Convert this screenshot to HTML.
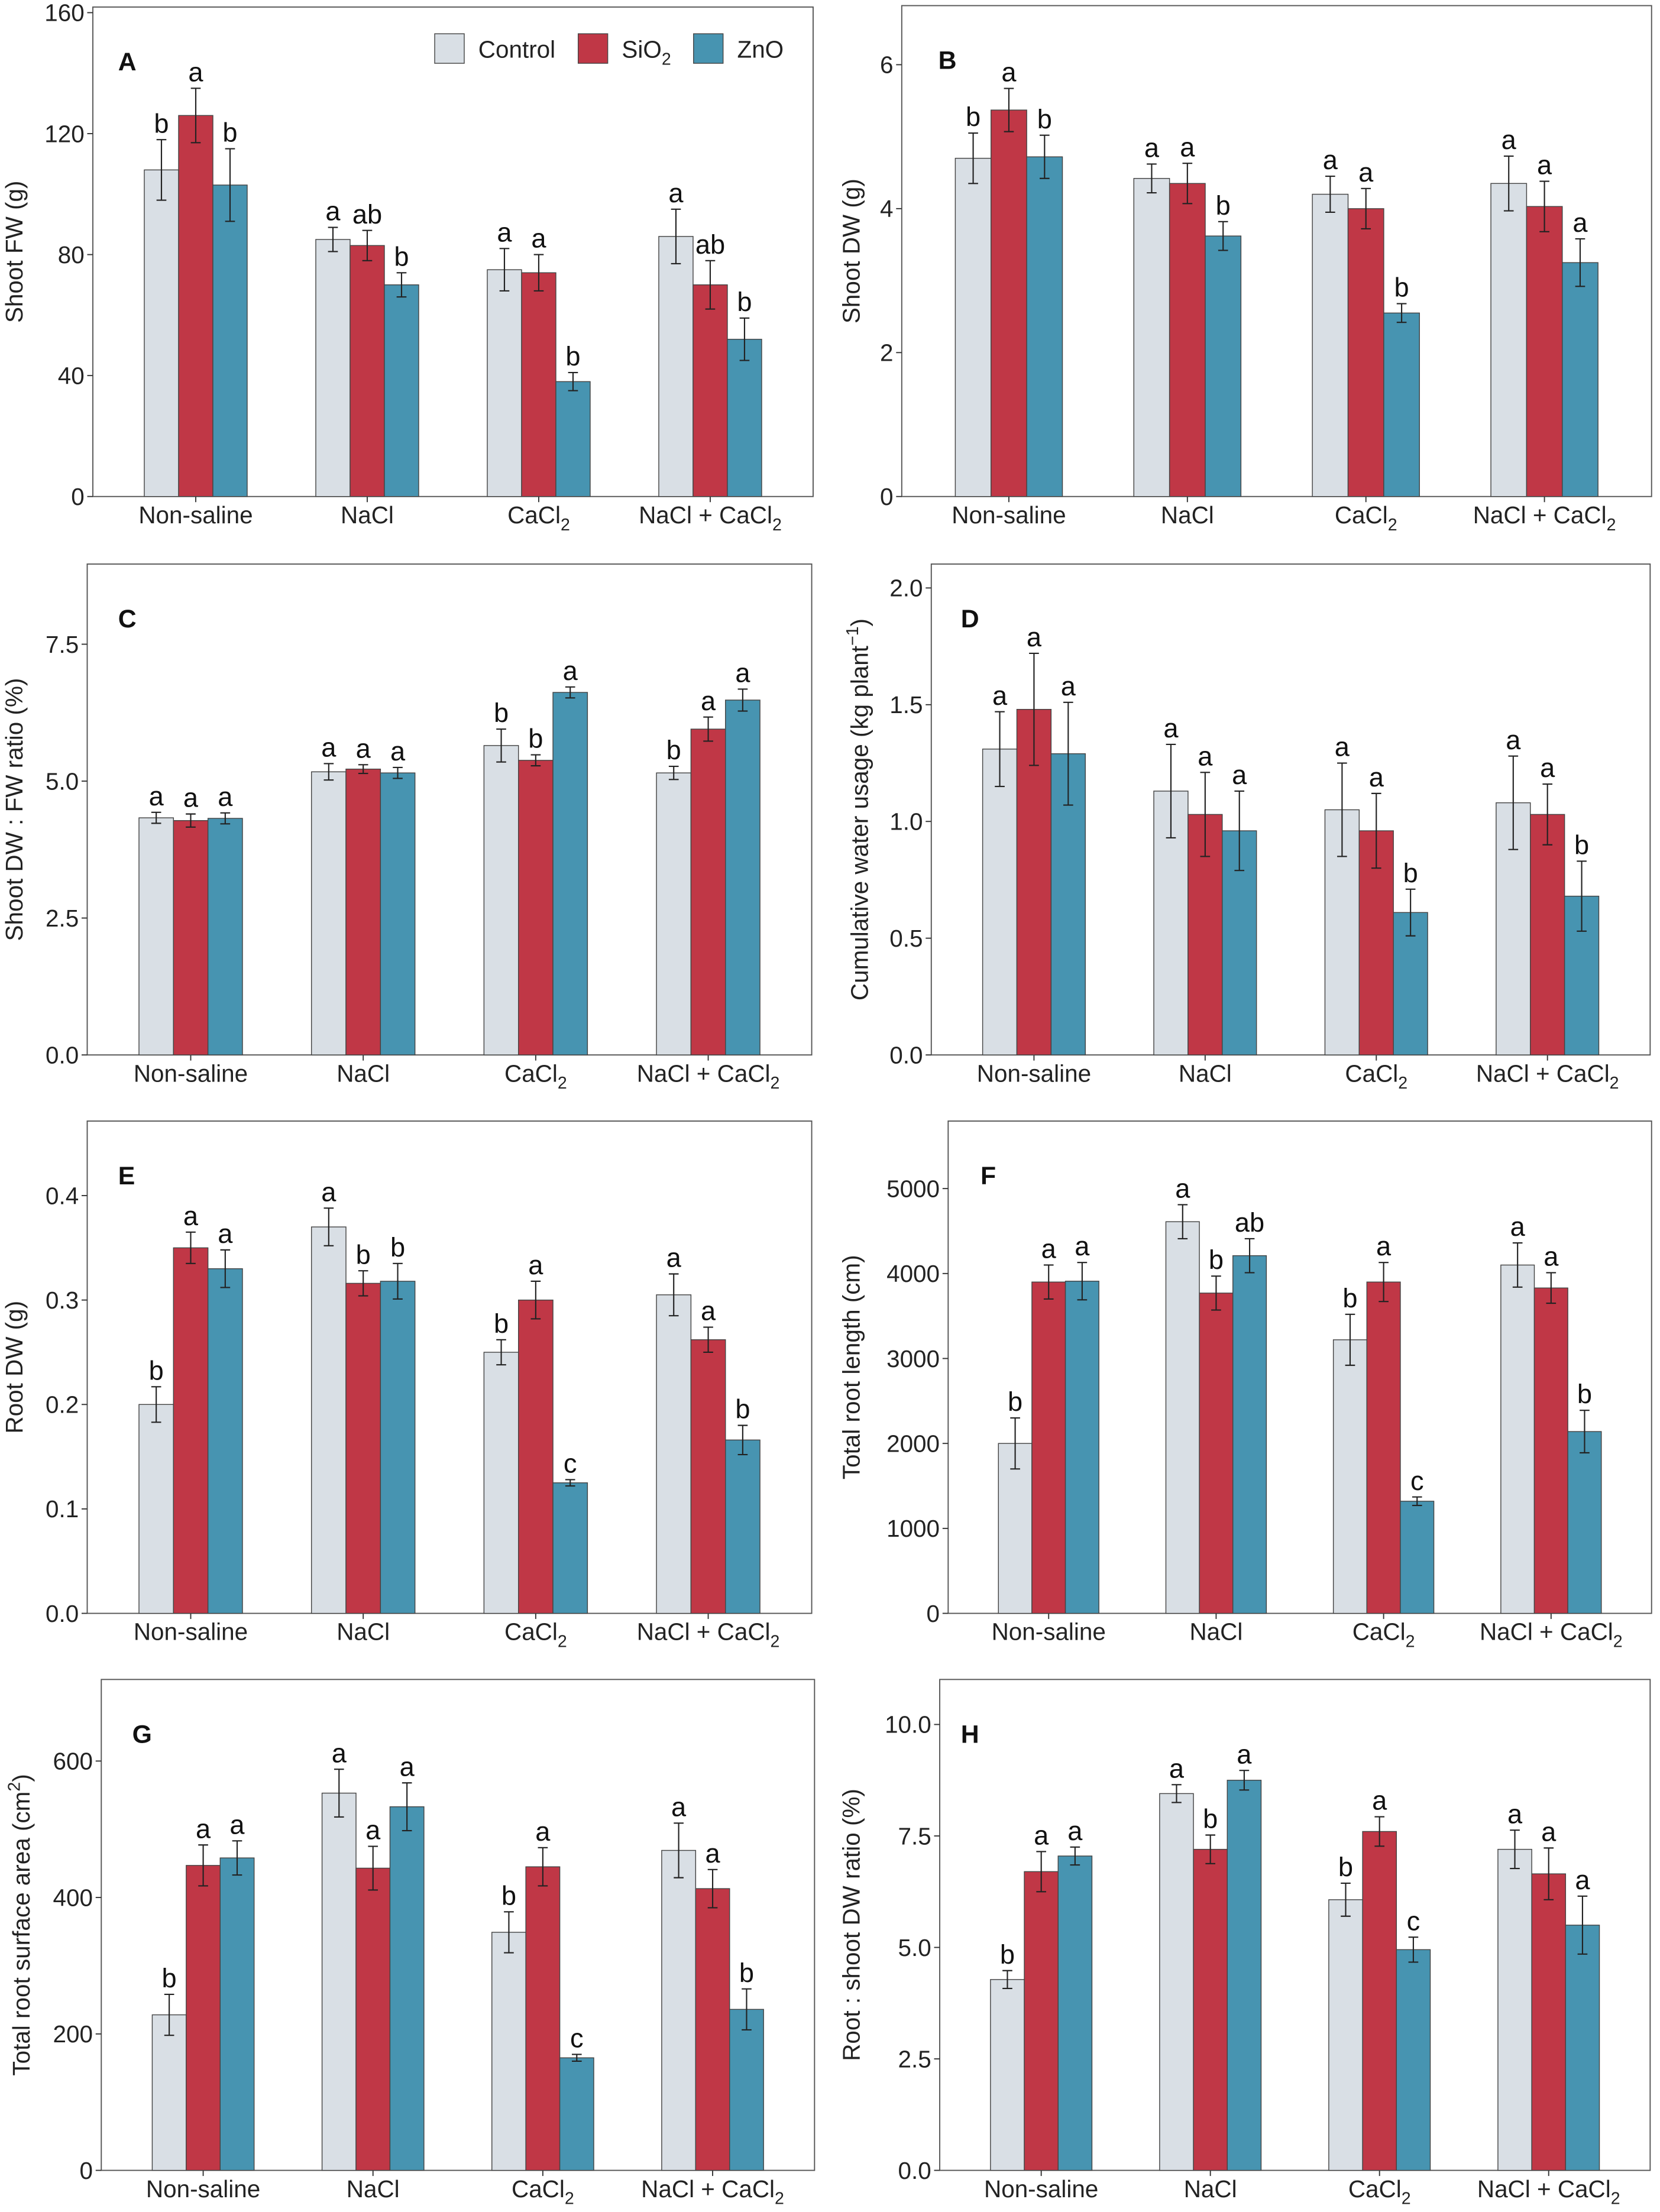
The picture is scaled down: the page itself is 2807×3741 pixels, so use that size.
<!DOCTYPE html>
<html><head><meta charset="utf-8"><style>
html,body{margin:0;padding:0;background:#fff;}
svg{display:block;font-family:"Liberation Sans",Arial,sans-serif;}
</style></head><body>
<svg id="fig" width="2807" height="3741" viewBox="0 0 1180 1572.6" preserveAspectRatio="none" xmlns="http://www.w3.org/2000/svg">
<rect x="0" y="0" width="1180" height="1573" fill="#fff"/>
</svg>
<script>
const categories = ["Non-saline","NaCl","CaCl2","NaCl + CaCl2"];
const seriesNames = ["Control","SiO2","ZnO"];
// Panel A
const aCtrl=[108,85,75,86], aSi=[126,83,74,70], aZn=[103,70,38,52];
const aCtrlE=[10,4,7,9], aSiE=[9,5,6,8], aZnE=[12,4,3,7];
const aLet=[["b","a","b"],["a","ab","b"],["a","a","b"],["a","ab","b"]];
const aTicks=[0,40,80,120,160];
// Panel B
const bCtrl=[4.7,4.42,4.2,4.35], bSi=[5.37,4.35,4.0,4.03], bZn=[4.72,3.62,2.55,3.25];
const bCtrlE=[0.35,0.2,0.25,0.38], bSiE=[0.3,0.28,0.28,0.35], bZnE=[0.3,0.2,0.13,0.33];
const bLet=[["b","a","b"],["a","a","b"],["a","a","b"],["a","a","a"]];
const bTicks=[0,2,4,6];
// Panel C
const cCtrl=[4.33,5.17,5.65,5.15], cSi=[4.28,5.22,5.38,5.95], cZn=[4.32,5.15,6.62,6.48];
const cCtrlE=[0.1,0.15,0.3,0.12], cSiE=[0.12,0.08,0.1,0.22], cZnE=[0.1,0.1,0.1,0.2];
const cLet=[["a","a","a"],["a","a","a"],["b","b","a"],["b","a","a"]];
const cTicks=[0,2.5,5,7.5];
// Panel D
const dCtrl=[1.31,1.13,1.05,1.08], dSi=[1.48,1.03,0.96,1.03], dZn=[1.29,0.96,0.61,0.68];
const dCtrlE=[0.16,0.2,0.2,0.2], dSiE=[0.24,0.18,0.16,0.13], dZnE=[0.22,0.17,0.1,0.15];
const dLet=[["a","a","a"],["a","a","a"],["a","a","b"],["a","a","b"]];
const dTicks=[0,0.5,1.0,1.5,2.0];
// Panel E
const eCtrl=[0.2,0.37,0.25,0.305], eSi=[0.35,0.316,0.3,0.262], eZn=[0.33,0.318,0.125,0.166];
const eCtrlE=[0.017,0.018,0.012,0.02], eSiE=[0.015,0.012,0.018,0.012], eZnE=[0.018,0.017,0.003,0.014];
const eLet=[["b","a","a"],["a","b","b"],["b","a","c"],["a","a","b"]];
const eTicks=[0,0.1,0.2,0.3,0.4];
// Panel F
const fCtrl=[2000,4610,3220,4100], fSi=[3900,3770,3900,3830], fZn=[3910,4210,1320,2140];
const fCtrlE=[300,200,300,260], fSiE=[200,200,230,180], fZnE=[220,200,50,250];
const fLet=[["b","a","a"],["a","b","ab"],["b","a","c"],["a","a","b"]];
const fTicks=[0,1000,2000,3000,4000,5000];
// Panel G
const gCtrl=[228,553,349,469], gSi=[447,443,445,413], gZn=[458,533,165,236];
const gCtrlE=[30,35,30,40], gSiE=[30,32,28,28], gZnE=[25,35,5,30];
const gLet=[["b","a","a"],["a","a","a"],["b","a","c"],["a","a","b"]];
const gTicks=[0,200,400,600];
// Panel H
const hCtrl=[4.28,8.45,6.07,7.2], hSi=[6.7,7.2,7.6,6.65], hZn=[7.05,8.75,4.95,5.5];
const hCtrlE=[0.2,0.2,0.37,0.43], hSiE=[0.45,0.32,0.33,0.58], hZnE=[0.2,0.22,0.28,0.65];
const hLet=[["b","a","a"],["a","b","a"],["b","a","c"],["a","a","a"]];
const hTicks=[0,2.5,5,7.5,10];

const COLORS=["#d9dfe5","#c03746","#4794b1"];
const NS="http://www.w3.org/2000/svg";
const svg=document.getElementById("fig");
function mk(tag,attrs,parent){const e=document.createElementNS(NS,tag);for(const k in attrs)e.setAttribute(k,attrs[k]);(parent||svg).appendChild(e);return e;}

function panel(cfg){
  const g=mk("g",{});
  
  
  const {L,R,T,B,topTick,topVal}=cfg;
  const W=R-L;
  const y=v=>B-v*(B-topTick)/topVal;
  const xc=i=>L+(i+0.6)/4.2*W;
  const bw=W/21;
  const frame=mk("rect",{x:L,y:T,width:W,height:B-T,fill:"none",stroke:"#555","stroke-width":0.8},g);
  
  
  cfg.ticks.forEach(t=>{
    mk("line",{x1:L-4,x2:L,y1:y(t),y2:y(t),stroke:"#333","stroke-width":0.8},g);
    const tx=mk("text",{x:L-6,y:y(t)+6,"text-anchor":"end","font-size":17,fill:"#222"},g);
    tx.textContent=cfg.fmt(t);
    
    
  });
  const yt=mk("text",{x:0,y:0,"text-anchor":"middle","font-size":17,fill:"#222",transform:`translate(${cfg.tx},${(T+B)/2}) rotate(-90)`},g);
  yt.innerHTML=cfg.title;
  
  
  const pl=mk("text",{x:cfg.lx,y:T+45,"font-size":18,"font-weight":"bold",fill:"#111"},g);
  pl.textContent=cfg.id;
  
  
  categories.forEach((c,i)=>{
    mk("line",{x1:xc(i),x2:xc(i),y1:B,y2:B+4,stroke:"#333","stroke-width":0.8},g);
    const t=mk("text",{x:xc(i),y:B+19,"text-anchor":"middle","font-size":17,fill:"#222"},g);
    if(c.indexOf("CaCl2")>=0){
      t.innerHTML=c.replace("CaCl2","CaCl")+'<tspan font-size="12" dy="5">2</tspan>';
    } else t.textContent=c;
    
    
  });
  const vals=[cfg.c,cfg.s,cfg.z], errs=[cfg.ce,cfg.se,cfg.ze];
  for(let i=0;i<4;i++){
    for(let k=0;k<3;k++){
      const v=vals[k][i], e=errs[k][i];
      const x0=xc(i)+(k-1.5)*bw;
      const r=mk("rect",{x:x0,y:y(v),width:bw,height:B-y(v),fill:COLORS[k],stroke:"#444","stroke-width":0.6},g);
      
      
      const cx=x0+bw/2;
      const eb=mk("path",{d:`M${cx-3.5},${y(v+e)}H${cx+3.5}M${cx},${y(v+e)}V${y(v-e)}M${cx-3.5},${y(v-e)}H${cx+3.5}`,stroke:"#222","stroke-width":0.9,fill:"none"},g);
      
      
      const lt=mk("text",{x:cx,y:y(v+e)-5,"text-anchor":"middle","font-size":19,fill:"#111"},g);
      lt.textContent=cfg.let[i][k];
      
      
    }
  }
}
const f1=v=>v.toFixed(1), f0=v=>String(v);
panel({id:"A",L:66,R:578,T:5,B:353,topTick:9,topVal:160,ticks:aTicks,fmt:f0,tx:16,lx:84,title:"Shoot FW (g)",c:aCtrl,s:aSi,z:aZn,ce:aCtrlE,se:aSiE,ze:aZnE,let:aLet});
panel({id:"B",L:641,R:1174,T:4,B:353,topTick:46,topVal:6,ticks:bTicks,fmt:f0,tx:611,lx:667,title:"Shoot DW (g)",c:bCtrl,s:bSi,z:bZn,ce:bCtrlE,se:bSiE,ze:bZnE,let:bLet});
panel({id:"C",L:62,R:577,T:401,B:750,topTick:458,topVal:7.5,ticks:cTicks,fmt:f1,tx:16,lx:84,title:"Shoot DW : FW ratio (%)",c:cCtrl,s:cSi,z:cZn,ce:cCtrlE,se:cSiE,ze:cZnE,let:cLet});
panel({id:"D",L:662,R:1173,T:401,B:750,topTick:418,topVal:2.0,ticks:dTicks,fmt:f1,tx:617,lx:683,title:'Cumulative water usage (kg plant<tspan font-size="12" dy="-7">−1</tspan><tspan dy="7">)</tspan>',c:dCtrl,s:dSi,z:dZn,ce:dCtrlE,se:dSiE,ze:dZnE,let:dLet});
panel({id:"E",L:62,R:577,T:797,B:1147,topTick:850,topVal:0.4,ticks:eTicks,fmt:f1,tx:16,lx:84,title:"Root DW (g)",c:eCtrl,s:eSi,z:eZn,ce:eCtrlE,se:eSiE,ze:eZnE,let:eLet});
panel({id:"F",L:674,R:1174,T:797,B:1147,topTick:845,topVal:5000,ticks:fTicks,fmt:f0,tx:611,lx:697,title:"Total root length (cm)",c:fCtrl,s:fSi,z:fZn,ce:fCtrlE,se:fSiE,ze:fZnE,let:fLet});
panel({id:"G",L:72,R:579,T:1194,B:1543,topTick:1252,topVal:600,ticks:gTicks,fmt:f0,tx:21,lx:94,title:'Total root surface area (cm<tspan font-size="12" dy="-7">2</tspan><tspan dy="7">)</tspan>',c:gCtrl,s:gSi,z:gZn,ce:gCtrlE,se:gSiE,ze:gZnE,let:gLet});
panel({id:"H",L:668,R:1173,T:1194,B:1543,topTick:1226,topVal:10,ticks:hTicks,fmt:f1,tx:611,lx:683,title:"Root : shoot DW ratio (%)",c:hCtrl,s:hSi,z:hZn,ce:hCtrlE,se:hSiE,ze:hZnE,let:hLet});

const lg=mk("g",{});


const legX=[309,411,493], legTxt=["Control",'SiO<tspan font-size="12" dy="5">2</tspan>',"ZnO"];
for(let k=0;k<3;k++){
  const r=mk("rect",{x:legX[k],y:24,width:21,height:21,fill:COLORS[k],stroke:"#444","stroke-width":0.6},lg);
  
  
  const t=mk("text",{x:legX[k]+31,y:41,"font-size":17,fill:"#222"},lg);
  t.innerHTML=legTxt[k];
  
  
}
</script>
</body></html>
